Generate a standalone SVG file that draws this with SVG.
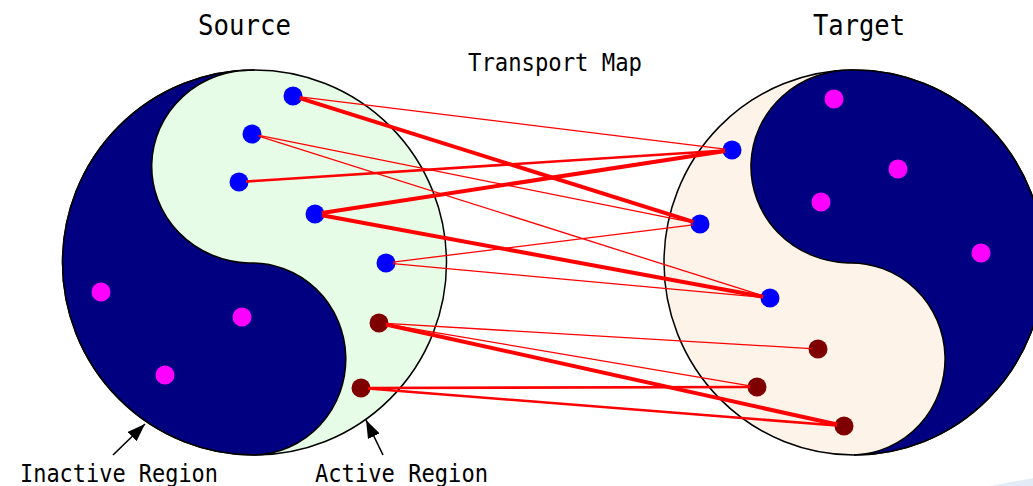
<svg xmlns="http://www.w3.org/2000/svg" width="1033" height="486" viewBox="0 0 1033 486">
<style>
.lbl{font-family:"DejaVu Sans Mono","Liberation Mono",monospace;fill:#000}
.outline{stroke:#000;stroke-width:1.5}
.dark{fill:#000080}
.blue{fill:#0000FF}
.mar{fill:#7F0000}
.mag{fill:#FF00FF}
.ln{stroke:#FF0000;fill:none;stroke-linecap:butt}
.t1{stroke-width:1.3}
.t2{stroke-width:2.6}
.t3{stroke-width:4}
.arr{stroke:#000;stroke-width:1.6;fill:none}
</style>
<defs>
<marker id="ah" viewBox="0 0 10 10" refX="10" refY="5" markerWidth="18" markerHeight="13" preserveAspectRatio="none" markerUnits="userSpaceOnUse" orient="auto">
<path d="M0,0 L10,5 L0,10 Z" fill="#000"/>
</marker>
</defs>
<rect width="1033" height="486" fill="#fff"/>
<polygon points="990,486 1033,478 1033,486" fill="#e2ebf6"/>

<g id="source">
<ellipse cx="254.5" cy="262.5" rx="192" ry="192.5" fill="#E6FCE6" class="outline"/>
<path class="dark outline" d="M254.5,70 A100,96.5 0 0,0 249,263 A94,96 0 0,1 254.5,455 A192,192.5 0 0,1 254.5,70 Z"/>
</g>

<g id="target">
<ellipse cx="854" cy="262.5" rx="190" ry="192.5" fill="#FDF3E9" class="outline"/>
<path class="dark outline" d="M854,70 A100,96.5 0 0,0 848,263 A94,96 0 0,1 854,455 A190,192.5 0 0,0 854,70 Z"/>
</g>

<g id="source-points">
<circle class="blue" cx="293" cy="96" r="9.5"/>
<circle class="blue" cx="252" cy="134" r="9.5"/>
<circle class="blue" cx="239" cy="182" r="9.5"/>
<circle class="blue" cx="315" cy="214" r="9.5"/>
<circle class="blue" cx="386" cy="263" r="9.5"/>
<circle class="mar" cx="379" cy="323" r="9.5"/>
<circle class="mar" cx="361" cy="388" r="9.5"/>
<circle class="mag" cx="101" cy="292" r="9.5"/>
<circle class="mag" cx="242" cy="317" r="9.5"/>
<circle class="mag" cx="165" cy="375" r="9.5"/>
</g>

<g id="target-points">
<circle class="blue" cx="732" cy="150" r="9.5"/>
<circle class="blue" cx="700" cy="224" r="9.5"/>
<circle class="blue" cx="770" cy="298" r="9.5"/>
<circle class="mar" cx="818" cy="349" r="9.5"/>
<circle class="mar" cx="757" cy="387" r="9.5"/>
<circle class="mar" cx="844" cy="426" r="9.5"/>
<circle class="mag" cx="834" cy="99" r="9.5"/>
<circle class="mag" cx="898" cy="169" r="9.5"/>
<circle class="mag" cx="821" cy="202" r="9.5"/>
<circle class="mag" cx="981" cy="253" r="9.5"/>
</g>

<g id="connectors">
<line class="ln t1" x1="299.9" y1="96.9" x2="725.1" y2="149.1"/>
<line class="ln t3" x1="299.7" y1="98.1" x2="693.3" y2="221.9"/>
<line class="ln t1" x1="258.9" y1="135.4" x2="693.1" y2="222.6"/>
<line class="ln t1" x1="258.7" y1="136.1" x2="763.3" y2="295.9"/>
<line class="ln t2" x1="246" y1="181.5" x2="725" y2="150.5"/>
<line class="ln t3" x1="321.9" y1="212.9" x2="725.1" y2="151.1"/>
<line class="ln t3" x1="321.9" y1="215.3" x2="763.1" y2="296.7"/>
<line class="ln t1" x1="392.9" y1="262.1" x2="693.1" y2="224.9"/>
<line class="ln t1" x1="393" y1="263.6" x2="763" y2="297.4"/>
<line class="ln t1" x1="386" y1="323.4" x2="811" y2="348.6"/>
<line class="ln t1" x1="385.9" y1="324.2" x2="750.1" y2="385.8"/>
<line class="ln t3" x1="385.8" y1="324.5" x2="837.2" y2="424.5"/>
<line class="ln t2" x1="368" y1="388" x2="750" y2="387"/>
<line class="ln t2" x1="368" y1="388.5" x2="837" y2="425.5"/>
</g>

<g id="arrows">
<line class="arr" x1="113" y1="455" x2="145" y2="424" marker-end="url(#ah)"/>
<line class="arr" x1="383" y1="455" x2="366" y2="420" marker-end="url(#ah)"/>
</g>

<g id="labels">
<text class="lbl" x="198" y="35" font-size="29" textLength="93" lengthAdjust="spacingAndGlyphs">Source</text>
<text class="lbl" x="813" y="35" font-size="29" textLength="92" lengthAdjust="spacingAndGlyphs">Target</text>
<text class="lbl" x="468" y="71" font-size="24" textLength="174" lengthAdjust="spacingAndGlyphs">Transport Map</text>
<text class="lbl" x="20" y="482" font-size="24" textLength="198" lengthAdjust="spacingAndGlyphs">Inactive Region</text>
<text class="lbl" x="315" y="482" font-size="24" textLength="173" lengthAdjust="spacingAndGlyphs">Active Region</text>
</g>
</svg>
